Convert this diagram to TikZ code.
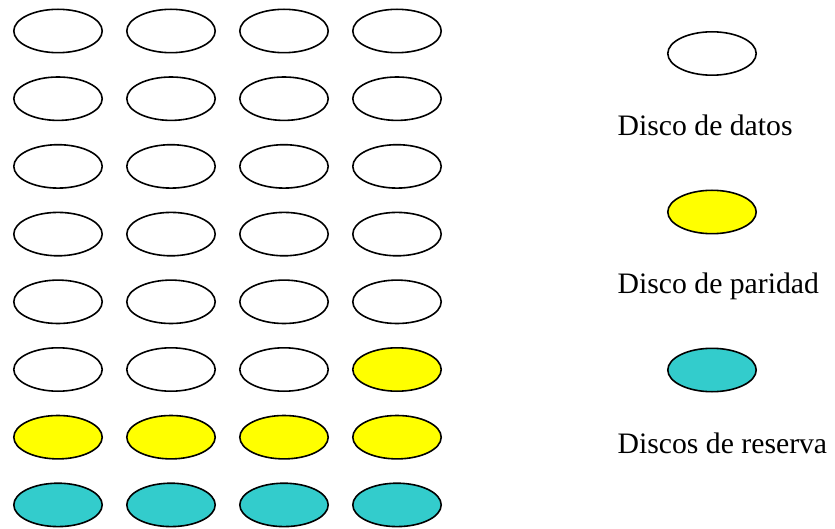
\documentclass[tikz,border=0pt]{standalone}
\usepackage{fontspec}
\setmainfont{Liberation Serif}
\usetikzlibrary{shapes.geometric}
\definecolor{paridadY}{HTML}{FFFF00}
\definecolor{reservaC}{HTML}{33CCCC}

\begin{document}
\begin{tikzpicture}[
  x=1pt, y=-1pt,
  disk/.style={draw, ellipse, line width=1.6pt, minimum width=88.4pt, minimum height=43.4pt, inner sep=0pt},
  datos/.style={disk, fill=white},
  paridad/.style={disk, fill=paridadY},
  reserva/.style={disk, fill=reservaC},
  leyenda/.style={anchor=base west, inner sep=0pt, font=\fontsize{29.7}{36}\selectfont},
]
\useasboundingbox (0,0) rectangle (835,529);

% Datos
\foreach \r in {1,...,5}
  \foreach \c in {1,...,4}
    \node[datos] (d\r\c) at ({58+113*(\c-1)}, {31+67.7*(\r-1)}) {};
\foreach \c in {1,...,3}
  \node[datos] (d6\c) at ({58+113*(\c-1)}, 369.5) {};

% Paridad
\node[paridad] (d64) at (397, 369.5) {};
\foreach \c in {1,...,4}
  \node[paridad] (d7\c) at ({58+113*(\c-1)}, 437.2) {};

% Reserva
\foreach \c in {1,...,4}
  \node[reserva] (d8\c) at ({58+113*(\c-1)}, 504.9) {};

% Leyenda
\node[datos] (leyDatos) at (712, 53.5) {};
\node[leyenda] (txtDatos) at (617.5, 136) {Disco de datos};
\node[paridad] (leyParidad) at (712, 212) {};
\node[leyenda] (txtParidad) at (617.5, 294) {Disco de paridad};
\node[reserva] (leyReserva) at (712, 370) {};
\node[leyenda] (txtReserva) at (617.5, 453) {Discos de reserva};

\end{tikzpicture}
\end{document}
